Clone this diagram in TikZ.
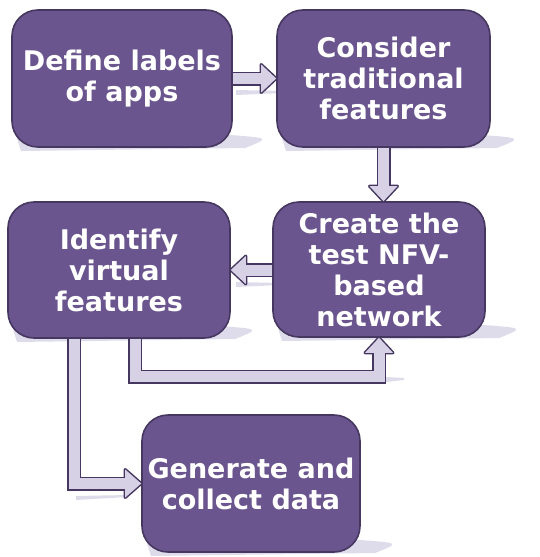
\documentclass[tikz,border=0pt]{standalone}
\usepackage{fontspec}
\setmainfont{DejaVu Sans}
\usetikzlibrary{calc}
\definecolor{boxc}{RGB}{106,85,142}
\definecolor{edgec}{RGB}{70,55,96}
\definecolor{arrowc}{RGB}{214,209,228}
\definecolor{shadc}{RGB}{222,219,234}
\tikzset{
  stepbox/.style={draw=edgec, line width=1.6pt, fill=boxc, rounded corners=26pt,
    text=white, font=\fontsize{27}{31}\selectfont\bfseries, align=center, inner sep=0pt},
  shaftout/.style={draw=edgec, line width=14pt, line join=miter},
  shaftin/.style={draw=arrowc, line width=11pt, line join=miter},
  headout/.style={fill=edgec, draw=edgec, line width=3pt, line join=round},
  headin/.style={fill=arrowc},
  streak/.style={fill=shadc}
}
\newcommand\boxshadow[3]{%
  \fill[streak] (#1,#3-12) -- (#2-40,#3-12) .. controls (#2,#3-9) .. (#2-25,#3+1)
    -- (#1+5,#3+4) -- cycle;}
\begin{document}
\begin{tikzpicture}[x=1pt,y=-1pt]
\useasboundingbox (0,0) rectangle (539,557);
% shadows
\boxshadow{16}{270}{147}
\boxshadow{281}{522}{147}
\boxshadow{277}{524}{337}
\boxshadow{12}{260}{338}
\boxshadow{146}{400}{552}
\fill[streak] (236,90) -- (283,91) -- (283,93) -- (236,95) -- cycle;
\fill[streak] (236,282) -- (280,283) -- (280,285) -- (236,287) -- cycle;
\fill[streak] (386,377) -- (404,378) -- (404,380) -- (386,382) -- cycle;
\fill[streak] (76,496) -- (128,495) -- (128,497) -- (76,500) -- cycle;
% boxes
\node[stepbox, minimum width=220pt, minimum height=137pt] (b1) at (122,78.5) {Define labels\\of apps};
\node[stepbox, minimum width=213pt, minimum height=137pt] (b2) at (383.5,78.5) {Consider\\traditional\\features};
\node[stepbox, minimum width=212pt, minimum height=135pt] (b3) at (379,269.5) {Create the\\test NFV-\\based\\network};
\node[stepbox, minimum width=222pt, minimum height=136pt] (b4) at (119,270) {Identify\\virtual\\features};
\node[stepbox, minimum width=218pt, minimum height=137pt] (b5) at (251,483.5) {Generate and\\collect data};
% connector points
\coordinate (t2) at (b2.south |- b3.north);
\coordinate (s3) at (b3.west |- b4.east);
\coordinate (s4) at ($(b4.south west)+(128,0)$);
\coordinate (s5) at ($(b4.south west)+(67,0)$);
% dark pass
\draw[shaftout] (b1.east) -- ($(b2.west)+(-15,0)$);
\draw[shaftout] (b2.south) -- ($(t2)+(0,-15)$);
\draw[shaftout] (s3) -- ($(b4.east)+(15,0)$);
\draw[shaftout] (s4) |- ($(b3.south)+(0,39)$) -- ($(b3.south)+(0,15)$);
\draw[shaftout] (s5) |- ($(b5.west)+(-16,0)$);
\path[headout] (b2.west) -- ++(-15,-14) -- ++(0,28) -- cycle;
\path[headout] (t2) -- ++(-14,-15) -- ++(28,0) -- cycle;
\path[headout] (b4.east) -- ++(15,-14) -- ++(0,28) -- cycle;
\path[headout] (b3.south) -- ++(-14,15) -- ++(28,0) -- cycle;
\path[headout] (b5.west) -- ++(-16,-14) -- ++(0,28) -- cycle;
% light pass
\draw[shaftin] (b1.east) -- ($(b2.west)+(-15,0)$);
\draw[shaftin] (b2.south) -- ($(t2)+(0,-15)$);
\draw[shaftin] (s3) -- ($(b4.east)+(15,0)$);
\draw[shaftin] (s4) |- ($(b3.south)+(0,39)$) -- ($(b3.south)+(0,15)$);
\draw[shaftin] (s5) |- ($(b5.west)+(-16,0)$);
\path[headin] (b2.west) -- ++(-15,-14) -- ++(0,28) -- cycle;
\path[headin] (t2) -- ++(-14,-15) -- ++(28,0) -- cycle;
\path[headin] (b4.east) -- ++(15,-14) -- ++(0,28) -- cycle;
\path[headin] (b3.south) -- ++(-14,15) -- ++(28,0) -- cycle;
\path[headin] (b5.west) -- ++(-16,-14) -- ++(0,28) -- cycle;
\end{tikzpicture}
\end{document}
